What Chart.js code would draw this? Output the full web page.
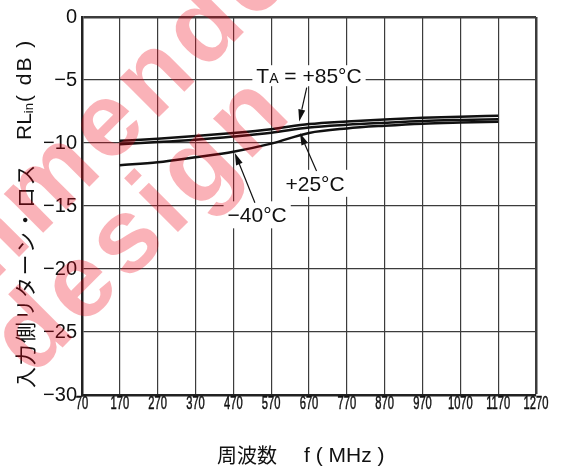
<!DOCTYPE html>
<html>
<head>
<meta charset="utf-8">
<script src="https://cdn.jsdelivr.net/npm/chart.js@4.4.1/dist/chart.umd.min.js"></script>
<style>
html, body { margin: 0; padding: 0; background: #fff; }
</style>
</head>
<body>
<canvas id="chart" width="562" height="468"></canvas>
<script>
// 周波数 (MHz)
const freqs = [170, 270, 370, 470, 570, 670, 770, 870, 970, 1070, 1170];
// 入力側リターン・ロス RLin (dB)
const rl85 = [-9.83, -9.66, -9.45, -9.20, -8.90, -8.50, -8.29, -8.13, -8.00, -7.91, -7.84];
const rl25 = [-10.09, -9.93, -9.74, -9.49, -9.19, -8.77, -8.55, -8.39, -8.25, -8.17, -8.11];
const rlM40 = [-11.76, -11.53, -11.13, -10.69, -10.05, -9.20, -8.84, -8.63, -8.47, -8.38, -8.31];

const xTicks = [70, 170, 270, 370, 470, 570, 670, 770, 870, 970, 1070, 1170, 1270];
const yTicks = [0, -5, -10, -15, -20, -25, -30];

// 温度ラベルと矢印 (データ座標)
const notes = [
    { parts: [['T', 21], ['A', 14], [' = +85°C', 21]], at: [670, -4.66], padY: 3, from: [664, -5.6], to: [644, -8.29] },
    { parts: [['+25°C', 21]], at: [686, -13.2], padY: 6, from: [690, -12.23], to: [646, -9.21] },
    { parts: [['\u221240°C', 21]], at: [533, -15.7], padY: 6, from: [527, -14.74], to: [474, -10.79] }
];

const SANS = '"Liberation Sans", Arial, sans-serif';
const CJK = '"Noto Sans CJK JP", sans-serif';

function measureParts(ctx, parts) {
    let w = 0;
    parts.forEach(p => {
        ctx.font = p[1] + 'px ' + SANS;
        w += ctx.measureText(p[0]).width;
    });
    return w;
}

function arrow(ctx, x1, y1, x2, y2) {
    const a = Math.atan2(y2 - y1, x2 - x1), L = 12, W = 3.5;
    const bx = x2 - L * Math.cos(a), by = y2 - L * Math.sin(a);
    ctx.beginPath();
    ctx.moveTo(x1, y1);
    ctx.lineTo(bx, by);
    ctx.stroke();
    ctx.beginPath();
    ctx.moveTo(x2, y2);
    ctx.lineTo(bx + W * Math.sin(a), by - W * Math.cos(a));
    ctx.lineTo(bx - W * Math.sin(a), by + W * Math.cos(a));
    ctx.closePath();
    ctx.fill();
}

const decor = {
    id: 'decor',
    // ラベル背景の白抜き (グリッドを隠す)
    beforeDatasetsDraw(chart) {
        const { ctx, scales: { x, y } } = chart;
        ctx.save();
        ctx.fillStyle = '#fff';
        notes.forEach(n => {
            const w = measureParts(ctx, n.parts);
            const cx = x.getPixelForValue(n.at[0]), cy = y.getPixelForValue(n.at[1]);
            ctx.fillRect(cx - w / 2 - 4, cy - 7.5 - n.padY, w + 8, 15 + 2 * n.padY);
        });
        ctx.restore();
    },
    afterDraw(chart) {
        const { ctx, scales: { x, y } } = chart;
        ctx.save();
        ctx.fillStyle = '#111';
        ctx.strokeStyle = '#111';
        ctx.lineWidth = 1.2;

        // ラベルと矢印
        notes.forEach(n => {
            const w = measureParts(ctx, n.parts);
            const cx = x.getPixelForValue(n.at[0]), cy = y.getPixelForValue(n.at[1]);
            let px = cx - w / 2;
            ctx.textAlign = 'left';
            ctx.textBaseline = 'alphabetic';
            n.parts.forEach(p => {
                ctx.font = p[1] + 'px ' + SANS;
                ctx.fillText(p[0], px, cy + 7.5);
                px += ctx.measureText(p[0]).width;
            });
            arrow(ctx, x.getPixelForValue(n.from[0]), y.getPixelForValue(n.from[1]),
                x.getPixelForValue(n.to[0]), y.getPixelForValue(n.to[1]));
        });

        // x軸の目盛ラベル (縦長の書体)
        ctx.textAlign = 'center';
        ctx.textBaseline = 'middle';
        ctx.font = '18px ' + SANS;
        ctx.lineWidth = 0.5;
        xTicks.forEach(v => {
            ctx.save();
            ctx.translate(x.getPixelForValue(v), 404);
            ctx.scale(0.62, 1);
            ctx.fillText(String(v), 0, 0);
            ctx.strokeText(String(v), 0, 0);
            ctx.restore();
        });

        // x軸タイトル
        ctx.textAlign = 'left';
        ctx.font = '20px ' + CJK;
        ctx.fillText('周波数', 217, 455);
        ctx.font = '21px ' + SANS;
        ctx.fillText('f ( MHz )', 304, 456);

        // y軸タイトル
        ctx.save();
        ctx.translate(25, 388);
        ctx.rotate(-Math.PI / 2);
        ctx.textBaseline = 'middle';
        ctx.font = '21px ' + CJK;
        ctx.letterSpacing = '1.5px';
        ctx.fillText('入力側リターン・ロス', 0, 0);
        ctx.letterSpacing = '0px';
        ctx.font = '21px ' + SANS;
        ctx.fillText('RL', 248, 0);
        const rlW = ctx.measureText('RL').width;
        ctx.font = '13px ' + SANS;
        ctx.fillText('in', 248 + rlW, 4);
        ctx.font = '21px ' + SANS;
        ctx.letterSpacing = '2px';
        ctx.fillText('( dB )', 286, 0);
        ctx.restore();

        // 透かし
        ctx.fillStyle = 'rgba(240, 0, 20, 0.3)';
        ctx.font = 'bold 105px ' + SANS;
        ctx.letterSpacing = '6px';
        ctx.textAlign = 'left';
        ctx.textBaseline = 'alphabetic';
        const rot = -45 * Math.PI / 180;
        [['recommended', 'recom', 38, 238], ['new design', 'new ', 32, 378]].forEach(l => {
            ctx.save();
            ctx.translate(l[2], l[3]);
            ctx.rotate(rot);
            ctx.fillText(l[0], -ctx.measureText(l[1]).width, 0);
            ctx.restore();
        });
        ctx.restore();
    }
};

const line = (d) => ({
    data: freqs.map((f, i) => ({ x: f, y: d[i] })),
    borderColor: '#111',
    borderWidth: 2.5,
    pointRadius: 0,
    fill: false,
    cubicInterpolationMode: 'monotone'
});

new Chart(document.getElementById('chart').getContext('2d'), {
    type: 'line',
    data: { datasets: [line(rl85), line(rl25), line(rlM40)] },
    options: {
        responsive: false,
        animation: false,
        layout: { padding: { left: 0, top: 15, right: 26, bottom: 0 } },
        plugins: { legend: { display: false }, tooltip: { enabled: false } },
        scales: {
            x: {
                type: 'linear', min: 70, max: 1270,
                afterBuildTicks: s => { s.ticks = xTicks.map(v => ({ value: v })); },
                afterFit: s => { s.height = 73; },
                ticks: { display: false },
                grid: {
                    color: '#3c3c3c', drawTicks: false,
                    lineWidth: c => (c.tick && c.tick.value === 1270) ? 2.5 : 1.2
                },
                border: { color: '#222', width: 2.5 }
            },
            y: {
                min: -30, max: 0,
                afterBuildTicks: s => { s.ticks = yTicks.map(v => ({ value: v })); },
                afterFit: s => { s.width = 82; },
                ticks: {
                    padding: 5, color: '#111',
                    font: { family: SANS, size: 20 },
                    callback: v => v === 0 ? '0' : '\u2212' + Math.abs(v)
                },
                grid: {
                    color: '#3c3c3c', drawTicks: false,
                    lineWidth: c => (c.tick && c.tick.value === 0) ? 2.5 : 1.2
                },
                border: { color: '#222', width: 2.5 }
            }
        }
    },
    plugins: [decor]
});
</script>
</body>
</html>
